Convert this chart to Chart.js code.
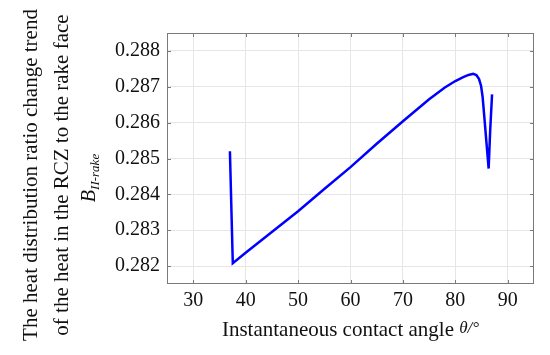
<!DOCTYPE html>
<html>
<head>
<meta charset="utf-8">
<script src="https://cdn.jsdelivr.net/npm/chart.js@4"></script>
<style>
  html, body { margin: 0; padding: 0; background: #fff; }
  #wrap { width: 550px; height: 355px; position: relative; }
</style>
</head>
<body>
<div id="wrap"><canvas id="c"></canvas></div>
<script>
// contact angle (deg) and heat distribution ratio
const angles = [37.0, 37.55, 40, 45, 50, 55, 60, 65, 70, 75, 78, 80, 81.5, 82.5, 83.4, 84.0, 84.5, 84.9, 85.2, 85.5, 85.9, 86.35, 86.65, 87.0];
const ratios = [0.28520, 0.28208, 0.28237, 0.28295, 0.28353, 0.28415, 0.28476, 0.28541, 0.28604, 0.28665, 0.28698, 0.28716, 0.28727, 0.28733, 0.28736, 0.28733, 0.28722, 0.28703, 0.28672, 0.28620, 0.28550, 0.28472, 0.28580, 0.28679];
const xTicks = [30, 40, 50, 60, 70, 80, 90];
const yTicks = [0.282, 0.283, 0.284, 0.285, 0.286, 0.287, 0.288];

const serif = '"Liberation Serif", "Times New Roman", serif';

// MATLAB-like box, inward ticks and axis titles
const decor = {
  id: 'decor',
  afterDatasetsDraw(chart) {
    const { ctx, chartArea: a, scales } = chart;
    ctx.save();
    ctx.strokeStyle = '#7a7a7a';
    ctx.lineWidth = 1;
    ctx.strokeRect(a.left + 0.5, a.top + 0.5, a.right - a.left - 1, a.bottom - a.top - 1);
    ctx.beginPath();
    xTicks.forEach(v => {
      const x = Math.round(scales.x.getPixelForValue(v)) + 0.5;
      ctx.moveTo(x, a.bottom); ctx.lineTo(x, a.bottom - 4);
      ctx.moveTo(x, a.top); ctx.lineTo(x, a.top + 4);
    });
    yTicks.forEach(v => {
      const y = Math.round(scales.y.getPixelForValue(v)) + 0.5;
      ctx.moveTo(a.left, y); ctx.lineTo(a.left + 4, y);
      ctx.moveTo(a.right, y); ctx.lineTo(a.right - 4, y);
    });
    ctx.stroke();

    ctx.fillStyle = '#111';
    // x title
    ctx.textBaseline = 'alphabetic';
    ctx.textAlign = 'left';
    ctx.font = '21px ' + serif;
    const main = 'Instantaneous contact angle ';
    const wMain = ctx.measureText(main).width;
    ctx.font = 'italic 17px ' + serif;
    const unit = '\u03b8/\u00b0';
    const wUnit = ctx.measureText(unit).width;
    const x0 = (a.left + a.right) / 2 - (wMain + wUnit) / 2;
    ctx.font = '21px ' + serif;
    ctx.fillText(main, x0, 336);
    ctx.font = 'italic 17px ' + serif;
    ctx.fillText(unit, x0 + wMain, 333);

    // y titles (rotated)
    const cy = 175;
    ctx.save();
    ctx.translate(37, cy);
    ctx.rotate(-Math.PI / 2);
    ctx.textAlign = 'center';
    ctx.font = '21px ' + serif;
    ctx.fillText('The heat distribution ratio change trend', 0, 0);
    ctx.restore();

    ctx.save();
    ctx.translate(68, cy);
    ctx.rotate(-Math.PI / 2);
    ctx.textAlign = 'center';
    ctx.font = '21px ' + serif;
    ctx.fillText('of the heat in the RCZ to the rake face', 0, 0);
    ctx.restore();

    ctx.save();
    ctx.translate(95, 178);
    ctx.rotate(-Math.PI / 2);
    ctx.textAlign = 'left';
    ctx.font = 'italic 20px ' + serif;
    const wB = ctx.measureText('B').width;
    ctx.font = 'italic 13px ' + serif;
    const wS = ctx.measureText('II-rake').width;
    const s = -(wB + wS) / 2;
    ctx.font = 'italic 20px ' + serif;
    ctx.fillText('B', s, 0);
    ctx.font = 'italic 13px ' + serif;
    ctx.fillText('II-rake', s + wB, 4);
    ctx.restore();

    ctx.restore();
  }
};

new Chart(document.getElementById('c'), {
  type: 'scatter',
  data: {
    datasets: [{
      data: angles.map((x, i) => ({ x, y: ratios[i] })),
      showLine: true,
      borderColor: '#0000ff',
      borderWidth: 2.5,
      pointRadius: 0,
      tension: 0
    }]
  },
  options: {
    responsive: true,
    maintainAspectRatio: false,
    animation: false,
    layout: { padding: { left: 0, right: 16, top: 33, bottom: 0 } },
    plugins: { legend: { display: false }, tooltip: { enabled: false } },
    scales: {
      x: {
        type: 'linear',
        min: 25, max: 95,
        afterBuildTicks: sc => { sc.ticks = xTicks.map(v => ({ value: v })); },
        afterFit: sc => { sc.height = 71; },
        grid: { color: '#e6e6e6', drawTicks: false },
        border: { display: false },
        ticks: { padding: 5, color: '#111', font: { family: serif, size: 20 } }
      },
      y: {
        min: 0.2815, max: 0.2885,
        afterBuildTicks: sc => { sc.ticks = yTicks.map(v => ({ value: v })); },
        afterFit: sc => { sc.width = 167; },
        grid: { color: '#e6e6e6', drawTicks: false },
        border: { display: false },
        ticks: {
          padding: 7, color: '#111',
          font: { family: serif, size: 20 },
          callback: v => v.toFixed(3)
        }
      }
    }
  },
  plugins: [decor]
});
</script>
</body>
</html>
